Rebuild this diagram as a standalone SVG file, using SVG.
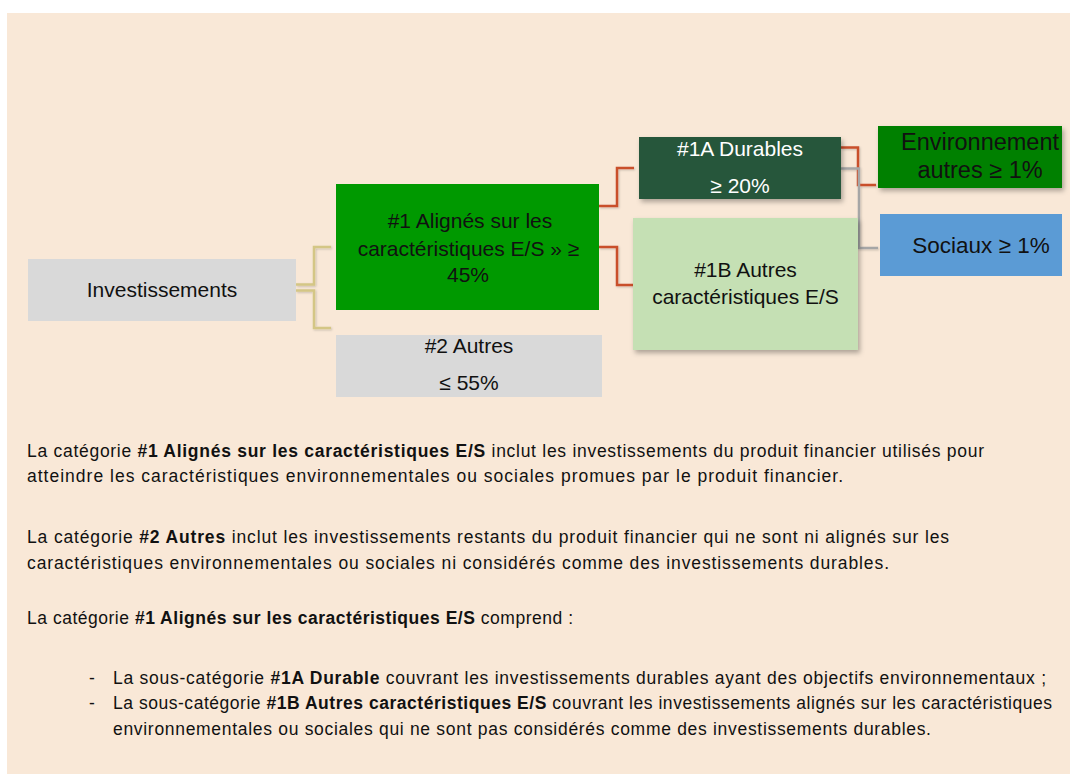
<svg xmlns="http://www.w3.org/2000/svg" width="1070" height="774" viewBox="0 0 1070 774">
<defs>
<style>
.lbl{font-family:"Liberation Sans",Arial,sans-serif;font-size:21px;fill:#111;text-anchor:middle}
.wht{fill:#fff}
.para{font-family:"Liberation Sans",Arial,sans-serif;font-size:17.5px;fill:#111}
.b{font-weight:bold}
.con{fill:none;stroke-width:2.5;stroke-linejoin:miter}
.tan{stroke:#d4c685}
.red{stroke:#c9502c}
.gry{stroke:#a6a6a6}
</style>
<filter id="sh" x="-10%" y="-10%" width="130%" height="140%">
<feDropShadow dx="2" dy="3" stdDeviation="2.5" flood-color="#000" flood-opacity="0.3"/>
</filter>
<filter id="lsh" x="-20%" y="-20%" width="140%" height="140%">
<feDropShadow dx="1" dy="1" stdDeviation="1" flood-color="#000" flood-opacity="0.2"/>
</filter>
<clipPath id="envclip"><rect x="878" y="126" width="184" height="62"/></clipPath>
</defs>
<rect x="7" y="13" width="1063" height="761" fill="#f9e8d7"/>

<g id="connectors" filter="url(#lsh)">
<path class="con tan" d="M296,284.5 H314 V247 H331"/>
<path class="con tan" d="M296,290.5 H314 V328 H331"/>
<path class="con red" d="M599,206 H617 V168 H634"/>
<path class="con red" d="M599,247 H617 V285 H633"/>
<path class="con red" d="M841,147.5 H858 V185 H876"/>
<path class="con gry" d="M841,168.5 H859 V248 H878"/>
</g>

<g id="investissements">
<rect x="28" y="259" width="268" height="62" fill="#d9d9d9"/>
<text class="lbl" x="162" y="297">Investissements</text>
</g>

<g id="n1">
<rect x="336" y="184" width="263" height="126" fill="#009900"/>
<text class="lbl" x="470" y="228">#1 Alignés sur les</text>
<text class="lbl" x="468.5" y="256">caractéristiques E/S » ≥</text>
<text class="lbl" x="468" y="282">45%</text>
</g>

<g id="n2">
<rect x="336" y="335" width="266" height="62" fill="#d9d9d9"/>
<text class="lbl" x="469" y="353">#2 Autres</text>
<text class="lbl" x="469" y="390">≤ 55%</text>
</g>

<g id="n1a">
<rect x="639" y="137" width="202" height="62" fill="#25573b" filter="url(#sh)"/>
<text class="lbl wht" x="740" y="156">#1A Durables</text>
<text class="lbl wht" x="740" y="193">≥ 20%</text>
</g>

<g id="n1b">
<rect x="633" y="218" width="225" height="132" fill="#c5e0b4" filter="url(#sh)"/>
<text class="lbl" x="745.5" y="277">#1B Autres</text>
<text class="lbl" x="745.5" y="304">caractéristiques E/S</text>
</g>

<g id="env">
<rect x="878" y="126" width="184" height="62" fill="#008000" filter="url(#sh)"/>
<g clip-path="url(#envclip)">
<text class="lbl" style="font-size:23.5px" x="980" y="150">Environnement</text>
<text class="lbl" style="font-size:23.5px" x="980" y="178">autres ≥ 1%</text>
</g>
</g>

<g id="sociaux">
<rect x="880" y="214" width="182" height="62" fill="#5b9bd5"/>
<text class="lbl" style="font-size:22.5px" x="981" y="253">Sociaux ≥ 1%</text>
</g>

<g id="texte">
<text class="para" x="27" y="457" textLength="957">La catégorie <tspan class="b">#1 Alignés sur les caractéristiques E/S</tspan> inclut les investissements du produit financier utilisés pour</text>
<text class="para" x="27" y="482" textLength="816">atteindre les caractéristiques environnementales ou sociales promues par le produit financier.</text>
<text class="para" x="27" y="543" textLength="922">La catégorie <tspan class="b">#2 Autres</tspan> inclut les investissements restants du produit financier qui ne sont ni alignés sur les</text>
<text class="para" x="27" y="569" textLength="862">caractéristiques environnementales ou sociales ni considérés comme des investissements durables.</text>
<text class="para" x="27" y="624" textLength="546">La catégorie <tspan class="b">#1 Alignés sur les caractéristiques E/S</tspan> comprend :</text>
<text class="para" x="89" y="684">-</text>
<text class="para" x="113" y="684" textLength="933">La sous-catégorie <tspan class="b">#1A Durable</tspan> couvrant les investissements durables ayant des objectifs environnementaux ;</text>
<text class="para" x="89" y="709">-</text>
<text class="para" x="113" y="709" textLength="939">La sous-catégorie <tspan class="b">#1B Autres caractéristiques E/S</tspan> couvrant les investissements alignés sur les caractéristiques</text>
<text class="para" x="113" y="735" textLength="818">environnementales ou sociales qui ne sont pas considérés comme des investissements durables.</text>
</g>
</svg>
